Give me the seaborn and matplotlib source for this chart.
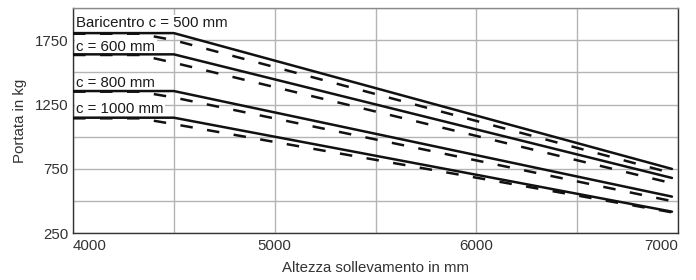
import matplotlib
matplotlib.use("Agg")
import matplotlib.pyplot as plt
import seaborn as sns
import pandas as pd
import numpy as np

# ---- data ----
lift_height = [4000, 4330, 4500, 6970]          # mm
labels = ["Baricentro c = 500 mm", "c = 600 mm", "c = 800 mm", "c = 1000 mm"]
solid_500 = [1805, 1805, 1805, 750]
solid_600 = [1640, 1640, 1640, 680]
solid_800 = [1355, 1355, 1355, 535]
solid_1000 = [1148, 1148, 1148, 418]
dashed_500 = [1800, 1800, 1750, 717]
dashed_600 = [1635, 1635, 1575, 639]
dashed_800 = [1350, 1350, 1305, 500]
dashed_1000 = [1143, 1143, 1098, 413]
y_ticks = [250, 750, 1250, 1750]
x_ticks = [4000, 5000, 6000, 7000]

solids = [solid_500, solid_600, solid_800, solid_1000]
dasheds = [dashed_500, dashed_600, dashed_800, dashed_1000]

rows = []
for lab, s, d in zip(labels, solids, dasheds):
    for x, v in zip(lift_height, s):
        rows.append({"x": x, "y": v, "c": lab, "kind": "solid"})
    for x, v in zip(lift_height, d):
        rows.append({"x": x, "y": v, "c": lab, "kind": "dashed"})
df = pd.DataFrame(rows)

sns.set_theme(style="white")
plt.rcParams["font.family"] = ["Liberation Sans", "DejaVu Sans"]

fig = plt.figure(figsize=(6.96, 2.8), dpi=100)
ax = fig.add_axes([73 / 696, 1 - 233.3 / 280, (678 - 73) / 696, (233.3 - 8) / 280])

sns.lineplot(data=df, x="x", y="y", units="c", style="kind", estimator=None,
             color="#111111", linewidth=1.8, sort=False,
             dashes={"solid": "", "dashed": (5.0, 5.8)},
             style_order=["solid", "dashed"], legend=False, ax=ax, zorder=3)

ax.set_xlim(4000, 7000)
ax.set_ylim(250, 2000)
ax.set_xticks(x_ticks)
ax.set_xticks(np.arange(4000, 7001, 500), minor=True)
ax.set_yticks(y_ticks)
ax.set_yticks(np.arange(250, 2001, 250), minor=True)
ax.grid(which="both", color="#b4b4b4", linewidth=1.0, zorder=0)
ax.set_axisbelow(True)

ax.tick_params(axis="both", which="both", length=0, labelsize=10.8, colors="#333333")
ax.tick_params(axis="y", pad=3)
ax.tick_params(axis="x", pad=4)
xl = ax.get_xticklabels()
xl[0].set_horizontalalignment("left")
xl[-1].set_horizontalalignment("right")

for side in ["left", "bottom", "right"]:
    ax.spines[side].set_color("#333333")
    ax.spines[side].set_linewidth(1.0)
ax.spines["top"].set_color("#8a8a8a")
ax.spines["top"].set_linewidth(1.0)

ax.set_xlabel("Altezza sollevamento in mm", fontsize=10.8, color="#333333", labelpad=6)
ax.set_ylabel("Portata in kg", fontsize=10.8, color="#333333", labelpad=6)

# label placement (styling offsets above each flat solid line, in kg)
label_offsets = [78, 55, 66, 67]
for lab, s, off in zip(labels, solids, label_offsets):
    ax.text(4015, s[0] + off, lab, fontsize=10.8, color="#1a1a1a", va="center",
            ha="left", zorder=2.5,
            bbox=dict(boxstyle="square,pad=0.1", facecolor="white", edgecolor="none"))

fig.savefig("out.png", dpi=100)
